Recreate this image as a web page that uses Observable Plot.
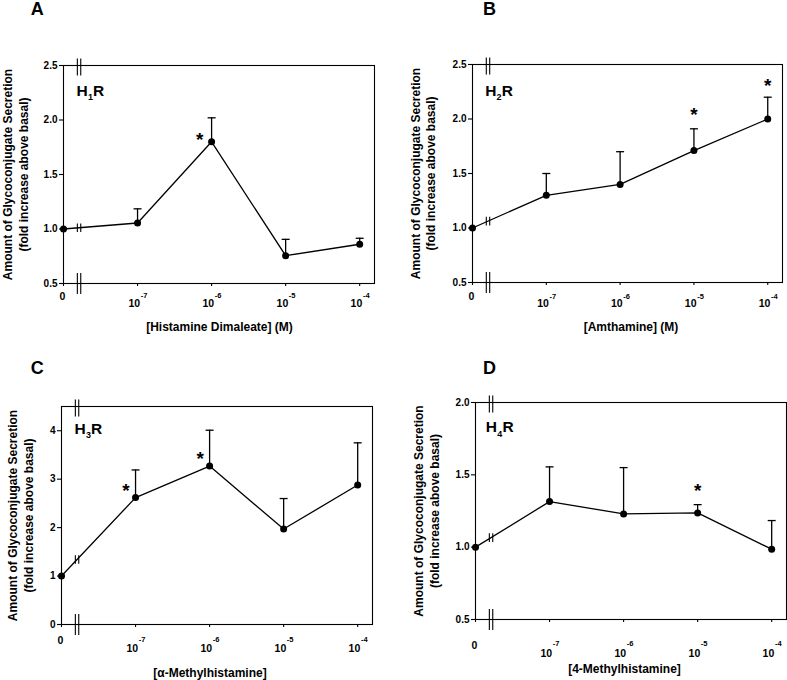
<!DOCTYPE html>
<html><head><meta charset="utf-8">
<script src="https://cdn.jsdelivr.net/npm/d3@7"></script>
<script src="https://cdn.jsdelivr.net/npm/@observablehq/plot@0.6"></script>
<style>
body{margin:0;background:#fff;}
#fig{position:relative;width:787px;height:680px;overflow:hidden;background:#fff;}
#fig > svg{position:absolute;}
</style></head><body><div id="fig"></div>
<script>
// ---- data ----
const doseBase = ["0", "10", "10", "10", "10"];
const doseExponent = ["", "-7", "-6", "-5", "-4"];
const dosePos = [-8, -7, -6, -5, -4]; // log10 [M]; control (0) drawn at -8 on the broken axis

const meanA = [1.00, 1.055, 1.80, 0.755, 0.86];
const semA  = [0, 0.13, 0.22, 0.15, 0.055];
const starIdxA = [2]; const starYA = [1.86];

const meanB = [1.00, 1.30, 1.40, 1.71, 2.00];
const semB  = [0, 0.20, 0.30, 0.20, 0.20];
const starIdxB = [3, 4]; const starYB = [2.085, 2.35];

const meanC = [1.00, 2.62, 3.27, 1.97, 2.88];
const semC  = [0, 0.57, 0.74, 0.63, 0.87];
const starIdxC = [1, 2]; const starYC = [2.86, 3.51];

const meanD = [1.00, 1.315, 1.23, 1.237, 0.986];
const semD  = [0, 0.24, 0.32, 0.057, 0.198];
const starIdxD = [3]; const starYD = [1.42];

const yTicksA = [0.5, 1.0, 1.5, 2.0, 2.5];
const yTicksB = [0.5, 1.0, 1.5, 2.0, 2.5];
const yTicksC = [0, 1, 2, 3, 4];
const yTicksD = [0.5, 1.0, 1.5, 2.0];

const yTitle = "Amount of Glycoconjugate Secretion\n(fold increase above basal)";

// ---- drawing ----
const FONT = '"Liberation Sans", Arial, Helvetica, sans-serif';
const breakX = -7.79;
const capSymbol = {draw(ctx, size){ const r = Math.sqrt(size/Math.PI); ctx.moveTo(-r,0); ctx.lineTo(r,0); }};
const breakSymbol = {draw(ctx, size){ const r = Math.sqrt(size/Math.PI); ctx.moveTo(-1.7,-r); ctx.lineTo(-1.7,r); ctx.moveTo(1.7,-r); ctx.lineTo(1.7,r); }};

const panels = [
  {letter:"A", sub:"1", xTitle:"[Histamine Dimaleate] (M)", mean:meanA, sem:semA, starIdx:starIdxA, starY:starYA,
   yDomain:[0.5,2.5], yTicks:yTicksA, yFormat:d3.format(".1f"),
   L:{left:0, top:0, width:393, height:340, ml:63, mr:19, mt:65, mb:57,
      zeroDy:16.6, baseDy:23.3, supDy:14.3, titleDx:0.5, titleDy:47.6, letterDx:-26.3, letterDy:-51,
      hDx:13, hDy:30, yLabDx:-48.7, starDx:-12}},
  {letter:"B", sub:"2", xTitle:"[Amthamine] (M)", mean:meanB, sem:semB, starIdx:starIdxB, starY:starYB,
   yDomain:[0.5,2.5], yTicks:yTicksB, yFormat:d3.format(".1f"),
   L:{left:393, top:0, width:394, height:340, ml:79, mr:5, mt:64, mb:58,
      zeroDy:17.3, baseDy:24.7, supDy:16.3, titleDx:3.5, titleDy:48.3, letterDx:17, letterDy:-50,
      hDx:12.7, hDy:31, yLabDx:-50, starDx:0}},
  {letter:"C", sub:"3", xTitle:"[\u03b1-Methylhistamine]", mean:meanC, sem:semC, starIdx:starIdxC, starY:starYC,
   yDomain:[0,4.5], yTicks:yTicksC, yFormat:d3.format("d"),
   L:{left:0, top:340, width:393, height:340, ml:61, mr:21, mt:66, mb:56,
      zeroDy:19, baseDy:27.4, supDy:17.4, titleDx:-7, titleDy:52.3, letterDx:-24.3, letterDy:-32.7,
      hDx:13, hDy:27.3, yLabDx:-41.7, starDx:-9.5}},
  {letter:"D", sub:"4", xTitle:"[4-Methylhistamine]", mean:meanD, sem:semD, starIdx:starIdxD, starY:starYD,
   yDomain:[0.5,2.0], yTicks:yTicksD, yFormat:d3.format(".1f"),
   L:{left:393, top:340, width:394, height:340, ml:82, mr:1, mt:62, mb:61,
      zeroDy:29, baseDy:37.7, supDy:26, titleDx:-6.5, titleDy:53.7, letterDx:14, letterDy:-29,
      hDx:10.3, hDy:29.7, yLabDx:-49.4, starDx:0}}
];

function drawPanel(p) {
  const L = p.L;
  const data = dosePos.map((x, i) => ({x, mean: p.mean[i], sem: p.sem[i], upper: p.mean[i] + p.sem[i], base: doseBase[i], exp: doseExponent[i]}));
  const errs = data.filter(d => d.sem > 0);
  const stars = p.starIdx.map((i, k) => ({x: dosePos[i], y: p.starY[k]}));
  const [ymin, ymax] = p.yDomain;
  const lineBreakY = data[0].mean + (data[1].mean - data[0].mean) * (breakX - data[0].x) / (data[1].x - data[0].x);
  const powers = data.filter(d => d.exp !== "");
  const zeros = data.filter(d => d.exp === "");
  const svg = Plot.plot({
    width: L.width, height: L.height,
    marginLeft: L.ml, marginRight: L.mr, marginTop: L.mt, marginBottom: L.mb,
    style: {fontFamily: FONT, fontWeight: "bold", fontSize: "10px", background: "white", color: "#000"},
    x: {domain: [-8, -3.8]},
    y: {domain: p.yDomain},
    marks: [
      Plot.frame({stroke: "#000", strokeWidth: 1.1}),
      Plot.axisY({ticks: p.yTicks, tickFormat: p.yFormat, tickSize: 4, tickPadding: 2, fontSize: 10, fontWeight: "bold", label: null, strokeWidth: 1.1}),
      Plot.axisX({ticks: dosePos, tickFormat: () => "", tickSize: 3, label: null, strokeWidth: 1.1}),
      // axis breaks
      Plot.dot([{x: breakX, y: ymax}], {x: "x", y: "y", symbol: breakSymbol, r: 8.5, dy: 1.5, stroke: "#000", fill: "none", strokeWidth: 1.1}),
      Plot.dot([{x: breakX, y: ymin}], {x: "x", y: "y", symbol: breakSymbol, r: 10.5, stroke: "#000", fill: "none", strokeWidth: 1.1}),
      // error bars (upper only)
      Plot.ruleX(errs, {x: "x", y1: "mean", y2: "upper", stroke: "#000", strokeWidth: 1.3}),
      Plot.dot(errs, {x: "x", y: "upper", symbol: capSymbol, r: 4, stroke: "#000", fill: "none", strokeWidth: 1.3}),
      // line + points
      Plot.line(data, {x: "x", y: "mean", stroke: "#000", strokeWidth: 1.3}),
      Plot.dot([{x: breakX, y: lineBreakY}], {x: "x", y: "y", symbol: breakSymbol, r: 4.3, stroke: "#000", fill: "none", strokeWidth: 1.1}),
      Plot.dot(data, {x: "x", y: "mean", r: 3.5, fill: "#000", stroke: "none"}),
      // stars
      Plot.text(stars, {x: "x", y: "y", text: () => "*", fontSize: 19, fontWeight: "bold", dx: L.starDx, dy: 4.9}),
      // x tick labels
      Plot.text(zeros, {x: "x", text: "base", frameAnchor: "bottom", lineAnchor: "bottom", fontSize: 10.5, dx: -1, dy: L.zeroDy}),
      Plot.text(powers, {x: "x", text: "base", frameAnchor: "bottom", lineAnchor: "bottom", textAnchor: "end", fontSize: 10.5, dx: 2.6, dy: L.baseDy}),
      Plot.text(powers, {x: "x", text: "exp", frameAnchor: "bottom", lineAnchor: "bottom", textAnchor: "start", fontSize: 7.5, dx: 3.2, dy: L.supDy}),
      // x title
      Plot.text([p.xTitle], {frameAnchor: "bottom", lineAnchor: "bottom", fontSize: 12, dx: L.titleDx, dy: L.titleDy}),
      // y title
      Plot.text([yTitle], {frameAnchor: "left", rotate: -90, lineAnchor: "middle", textAnchor: "middle", fontSize: 12, lineHeight: 1.3, dx: L.yLabDx}),
      // receptor label H_nR
      Plot.text(["H"], {frameAnchor: "top-left", lineAnchor: "bottom", textAnchor: "start", fontSize: 15.5, dx: L.hDx, dy: L.hDy}),
      Plot.text([p.sub], {frameAnchor: "top-left", lineAnchor: "bottom", textAnchor: "start", fontSize: 9, dx: L.hDx + 11.4, dy: L.hDy + 4.5}),
      Plot.text(["R"], {frameAnchor: "top-left", lineAnchor: "bottom", textAnchor: "start", fontSize: 15.5, dx: L.hDx + 16.6, dy: L.hDy}),
      // panel letter
      Plot.text([p.letter], {frameAnchor: "top-left", lineAnchor: "bottom", textAnchor: "middle", fontSize: 18, dx: L.letterDx, dy: L.letterDy})
    ]
  });
  svg.style.left = L.left + "px";
  svg.style.top = L.top + "px";
  svg.style.maxWidth = "none";
  document.getElementById("fig").appendChild(svg);
}
panels.forEach(drawPanel);
</script>
</body></html>
